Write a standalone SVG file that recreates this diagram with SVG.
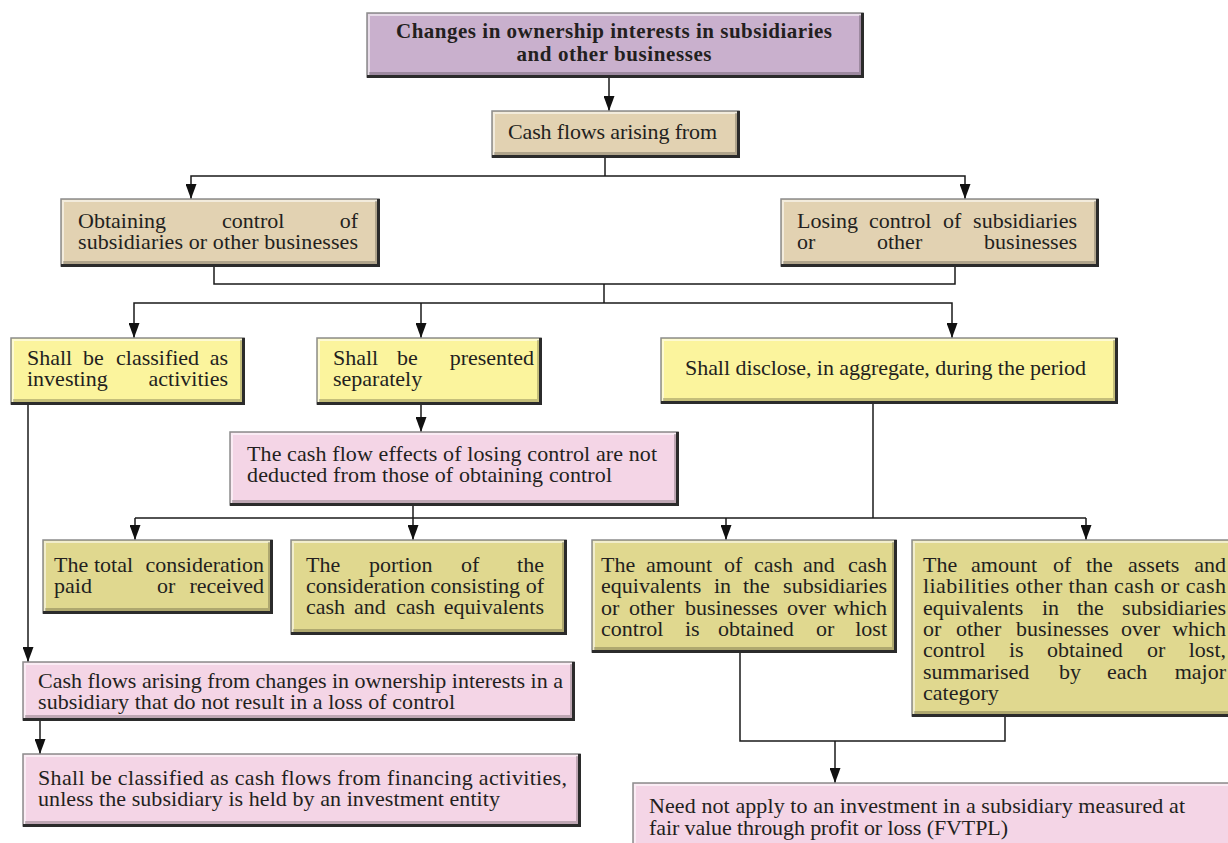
<svg xmlns="http://www.w3.org/2000/svg" width="1228" height="843" viewBox="0 0 1228 843">
<defs>
<marker id="ah" markerUnits="userSpaceOnUse" markerWidth="11" markerHeight="15" viewBox="0 0 11 15" refX="5.5" refY="15" orient="0">
<path d="M0,0 L11,0 L5.5,15 z" fill="#111"/>
</marker>
<style>
text{font-family:"Liberation Serif","Times New Roman",serif;font-size:22px;fill:#231f20}
.b{font-weight:bold;font-size:21px}
.e{text-anchor:end}
.m{text-anchor:middle}
.box{stroke:#8c8c8c;stroke-width:1.5}
.sh{fill:none;stroke:#2b2b2b;stroke-width:3}
.sh2{fill:none;stroke:#000;stroke-opacity:.22;stroke-width:3}
.hi{fill:none;stroke:#fff;stroke-opacity:.55;stroke-width:2}
.pur{fill:#c9b0cd}
.tan{fill:#e2d2b2}
.yel{fill:#fbf49d}
.pnk{fill:#f4d5e6}
.olv{fill:#e0d88f}
.c{fill:none;stroke:#1a1a1a;stroke-width:1.5}
.a{marker-end:url(#ah)}
</style>
</defs>
<rect width="1228" height="843" fill="#fff"/>

<g id="connectors">
<path class="c a" d="M609,77 V111"/>
<path class="c" d="M605,157 V176"/>
<path class="c a" d="M605,176 H191 V199"/>
<path class="c a" d="M605,176 H965 V199"/>
<path class="c" d="M214,267 V284 H955 V267"/>
<path class="c" d="M604,284 V303"/>
<path class="c a" d="M604,303 H134 V338"/>
<path class="c a" d="M421,303 V338"/>
<path class="c a" d="M604,303 H952 V338"/>
<path class="c a" d="M421,405 V432"/>
<path class="c a" d="M28,405 V662"/>
<path class="c" d="M413,506 V518"/>
<path class="c" d="M873,404 V518"/>
<path class="c" d="M135,518 H1086"/>
<path class="c a" d="M135,518 V540"/>
<path class="c a" d="M413,518 V540"/>
<path class="c a" d="M726,518 V540"/>
<path class="c a" d="M1086,518 V540"/>
<path class="c a" d="M40,721 V754"/>
<path class="c" d="M740,653 V741 H1005 V717"/>
<path class="c a" d="M835,741 V783"/>
</g>

<g id="n-title">
<rect class="box pur" x="367" y="13" width="496" height="64"/>
<path class="hi" d="M369,76 V15 H862"/><path class="sh2" d="M369,73.5 H860.5 V15"/><path class="sh" d="M367,76.5 H862.5 V13"/>
<text class="b m" x="614" y="38" textLength="436">Changes in ownership interests in subsidiaries</text>
<text class="b m" x="614" y="61" textLength="195">and other businesses</text>
</g>

<g id="n-cashflows">
<rect class="box tan" x="492" y="111" width="247" height="46"/>
<path class="hi" d="M494,156 V113 H738"/><path class="sh2" d="M494,153.5 H736.5 V113"/><path class="sh" d="M492,156.5 H738.5 V111"/>
<text x="508" y="139" textLength="209">Cash flows arising from</text>
</g>

<g id="n-obtaining">
<rect class="box tan" x="61" y="199" width="318" height="67"/>
<path class="hi" d="M63,265 V201 H378"/><path class="sh2" d="M63,262.5 H376.5 V201"/><path class="sh" d="M61,265.5 H378.5 V199"/>
<text x="78" y="228">Obtaining</text><text x="222" y="228">control</text><text class="e" x="358" y="228">of</text>
<text x="78" y="249" textLength="280">subsidiaries or other businesses</text>
</g>

<g id="n-losing">
<rect class="box tan" x="781" y="199" width="317" height="67"/>
<path class="hi" d="M783,265 V201 H1097"/><path class="sh2" d="M783,262.5 H1095.5 V201"/><path class="sh" d="M781,265.5 H1097.5 V199"/>
<text x="797" y="228">Losing</text><text x="869" y="228">control</text><text x="943" y="228">of</text><text class="e" x="1077" y="228">subsidiaries</text>
<text x="797" y="249">or</text><text x="877" y="249">other</text><text class="e" x="1077" y="249">businesses</text>
</g>

<g id="n-investing">
<rect class="box yel" x="11" y="338" width="233" height="66"/>
<path class="hi" d="M13,403 V340 H243"/><path class="sh2" d="M13,400.5 H241.5 V340"/><path class="sh" d="M11,403.5 H243.5 V338"/>
<text x="27" y="365">Shall</text><text x="83" y="365">be</text><text x="116" y="365">classified</text><text class="e" x="228" y="365">as</text>
<text x="27" y="386">investing</text><text class="e" x="228" y="386">activities</text>
</g>

<g id="n-separately">
<rect class="box yel" x="317" y="338" width="224" height="66"/>
<path class="hi" d="M319,403 V340 H540"/><path class="sh2" d="M319,400.5 H538.5 V340"/><path class="sh" d="M317,403.5 H540.5 V338"/>
<text x="333" y="365">Shall</text><text x="397" y="365">be</text><text class="e" x="534" y="365">presented</text>
<text x="333" y="386">separately</text>
</g>

<g id="n-disclose">
<rect class="box yel" x="661" y="338" width="456" height="65"/>
<path class="hi" d="M663,402 V340 H1116"/><path class="sh2" d="M663,399.5 H1114.5 V340"/><path class="sh" d="M661,402.5 H1116.5 V338"/>
<text x="685" y="375" textLength="401">Shall disclose, in aggregate, during the period</text>
</g>

<g id="n-notdeducted">
<rect class="box pnk" x="230" y="432" width="448" height="73"/>
<path class="hi" d="M232,504 V434 H677"/><path class="sh2" d="M232,501.5 H675.5 V434"/><path class="sh" d="M230,504.5 H677.5 V432"/>
<text x="247" y="461" textLength="410">The cash flow effects of losing control are not</text>
<text x="247" y="482" textLength="365">deducted from those of obtaining control</text>
</g>

<g id="n-total">
<rect class="box olv" x="43" y="540" width="229" height="73"/>
<path class="hi" d="M45,612 V542 H271"/><path class="sh2" d="M45,609.5 H269.5 V542"/><path class="sh" d="M43,612.5 H271.5 V540"/>
<text x="54" y="572">The</text><text x="94" y="572">total</text><text class="e" x="264" y="572">consideration</text>
<text x="54" y="593">paid</text><text x="157" y="593">or</text><text class="e" x="264" y="593">received</text>
</g>

<g id="n-portion">
<rect class="box olv" x="291" y="540" width="275" height="94"/>
<path class="hi" d="M293,633 V542 H565"/><path class="sh2" d="M293,630.5 H563.5 V542"/><path class="sh" d="M291,633.5 H565.5 V540"/>
<text x="306" y="572">The</text><text x="369" y="572">portion</text><text x="461" y="572">of</text><text class="e" x="544" y="572">the</text>
<text x="306" y="593" textLength="238">consideration consisting of</text>
<text x="306" y="614">cash</text><text x="354" y="614">and</text><text x="396" y="614">cash</text><text class="e" x="544" y="614">equivalents</text>
</g>

<g id="n-amountcash">
<rect class="box olv" x="592" y="540" width="304" height="112"/>
<path class="hi" d="M594,651 V542 H895"/><path class="sh2" d="M594,648.5 H893.5 V542"/><path class="sh" d="M592,651.5 H895.5 V540"/>
<text x="601" y="572">The</text><text x="646" y="572">amount</text><text x="724" y="572">of</text><text x="754" y="572">cash</text><text x="803" y="572">and</text><text class="e" x="887" y="572">cash</text>
<text x="601" y="593">equivalents</text><text x="714" y="593">in</text><text x="743" y="593">the</text><text class="e" x="887" y="593">subsidiaries</text>
<text x="601" y="615">or</text><text x="629" y="615">other</text><text x="685" y="615">businesses</text><text x="787" y="615">over</text><text class="e" x="887" y="615">which</text>
<text x="601" y="636">control</text><text x="685" y="636">is</text><text x="718" y="636">obtained</text><text x="816" y="636">or</text><text class="e" x="887" y="636">lost</text>
</g>

<g id="n-amountassets">
<rect class="box olv" x="912" y="540" width="330" height="176"/>
<path class="hi" d="M914,715 V542 H1242"/><path class="sh2" d="M914,712.5 H1242"/><path class="sh" d="M912,715.5 H1242"/>
<text x="923" y="572">The</text><text x="971" y="572">amount</text><text x="1053" y="572">of</text><text x="1086" y="572">the</text><text x="1128" y="572">assets</text><text class="e" x="1226" y="572">and</text>
<text x="923" y="593" textLength="303">liabilities other than cash or cash</text>
<text x="923" y="615">equivalents</text><text x="1042" y="615">in</text><text x="1077" y="615">the</text><text class="e" x="1226" y="615">subsidiaries</text>
<text x="923" y="636">or</text><text x="956" y="636">other</text><text x="1016" y="636">businesses</text><text x="1121" y="636">over</text><text class="e" x="1226" y="636">which</text>
<text x="923" y="657">control</text><text x="1009" y="657">is</text><text x="1047" y="657">obtained</text><text x="1147" y="657">or</text><text class="e" x="1226" y="657">lost,</text>
<text x="923" y="679">summarised</text><text x="1059" y="679">by</text><text x="1107" y="679">each</text><text class="e" x="1226" y="679">major</text>
<text x="923" y="700">category</text>
</g>

<g id="n-nolosscontrol">
<rect class="box pnk" x="23" y="662" width="551" height="58"/>
<path class="hi" d="M25,719 V664 H573"/><path class="sh2" d="M25,716.5 H571.5 V664"/><path class="sh" d="M23,719.5 H573.5 V662"/>
<text x="38" y="688" textLength="525">Cash flows arising from changes in ownership interests in a</text>
<text x="38" y="709" textLength="417">subsidiary that do not result in a loss of control</text>
</g>

<g id="n-financing">
<rect class="box pnk" x="23" y="754" width="557" height="72"/>
<path class="hi" d="M25,825 V756 H579"/><path class="sh2" d="M25,822.5 H577.5 V756"/><path class="sh" d="M23,825.5 H579.5 V754"/>
<text x="38" y="785" textLength="529">Shall be classified as cash flows from financing activities,</text>
<text x="38" y="806" textLength="462">unless the subsidiary is held by an investment entity</text>
</g>

<g id="n-fvtpl">
<rect class="box pnk" x="633" y="783" width="610" height="80"/>
<path class="hi" d="M635,862 V785 H1242"/>
<text x="649" y="813" textLength="536">Need not apply to an investment in a subsidiary measured at</text>
<text x="649" y="835" textLength="359">fair value through profit or loss (FVTPL)</text>
</g>
</svg>
